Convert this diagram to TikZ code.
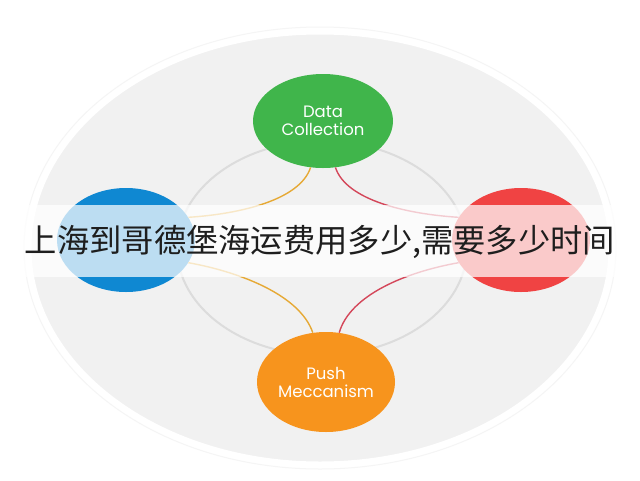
\documentclass[tikz,border=0pt]{standalone}
\usepackage{fontspec}
\setmainfont{Poppins}
\newfontfamily\cjk{Noto Sans CJK SC}
\usetikzlibrary{shapes.geometric}
\definecolor{bgell}{HTML}{F1F1F1}
\definecolor{ringc}{HTML}{DCDCDC}
\definecolor{cgreen}{HTML}{40B54B}
\definecolor{cblue}{HTML}{0F88D2}
\definecolor{cred}{HTML}{F04343}
\definecolor{corange}{HTML}{F7941D}
\definecolor{lgold}{HTML}{E6A935}
\definecolor{lred}{HTML}{D4475A}
\definecolor{txtc}{HTML}{1E1E1E}
\tikzset{
  bubble/.style={ellipse, inner sep=0pt, minimum width=138pt, minimum height=98pt,
    text=white, align=center, font=\fontsize{16.5}{18}\selectfont},
  goldlink/.style={draw=lgold, line width=1.4pt},
  redlink/.style={draw=lred, line width=1.4pt},
}
\begin{document}
\begin{tikzpicture}[x=1pt,y=-1pt]
\useasboundingbox (0,0) rectangle (640,480);
\fill[white] (0,0) rectangle (640,480);
% background ellipse
\draw[draw=black!4, line width=1pt] (320,248) ellipse [x radius=296, y radius=221];
\draw[fill=bgell, draw=white, line width=3pt] (320,248) ellipse [x radius=290, y radius=215];
% inner ring
\draw[draw=ringc, line width=2pt] (322,248) ellipse [x radius=145, y radius=107];
% nodes
\node[bubble, fill=cgreen, minimum width=140pt, minimum height=94pt] (dc) at (323,121) {Data\\Collection};
\node[bubble, fill=corange, minimum height=100pt] (pm) at (326,382) {Push\\Meccanism};
\node[bubble, fill=cblue, minimum height=104pt] (lf) at (126,240) {};
\node[bubble, fill=cred, minimum height=104pt] (rt) at (521,240) {};
% connectors
\path[goldlink] (dc.255) .. controls (300,200) and (240,214) .. (lf.20);
\path[goldlink] (lf.-20) .. controls (240,272) and (300,295) .. (pm.105);
\path[redlink] (dc.285) .. controls (346,200) and (406,214) .. (rt.160);
\path[redlink] (rt.200) .. controls (406,272) and (350,295) .. (pm.75);
% band
\fill[white, opacity=0.72] (0,205) rectangle (640,277);
\node[text=txtc, font=\cjk\fontsize{32.3}{36}\selectfont, inner sep=0pt] (title) at (320,242) {上海到哥德堡海运费用多少,需要多少时间};
\end{tikzpicture}
\end{document}
